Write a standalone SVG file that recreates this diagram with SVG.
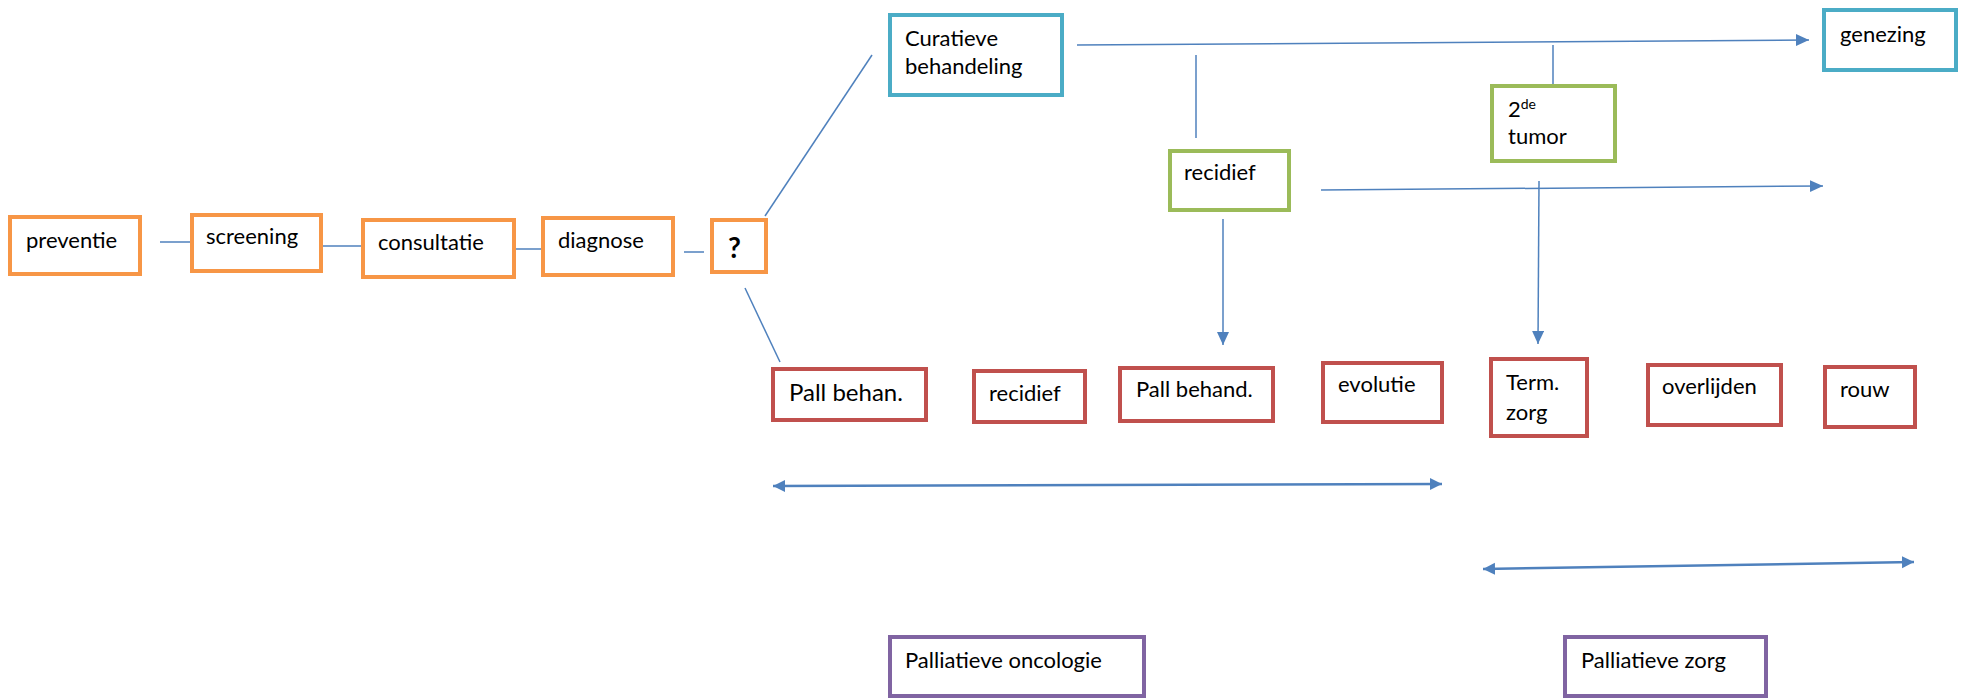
<svg xmlns="http://www.w3.org/2000/svg" width="1963" height="699" viewBox="0 0 1963 699">
<style>
  .box { fill: #ffffff; stroke-width: 4; }
  .o { stroke: #F79646; }
  .c { stroke: #4BACC6; }
  .g { stroke: #9BBB59; }
  .r { stroke: #C0504D; }
  .p { stroke: #8064A2; }
  text { font-family: Lato, "Open Sans", "Liberation Sans", sans-serif; font-size: 22px; fill: #000000; }
  .ln { stroke: #4F81BD; stroke-width: 1.5; fill: none; }
  .dbl { stroke: #4F81BD; stroke-width: 2.5; fill: none; }
</style>
<defs>
  <marker id="arr" markerUnits="userSpaceOnUse" markerWidth="14" markerHeight="14" refX="13" refY="6" orient="auto">
    <path d="M0,0 L13,6 L0,12 Z" fill="#4F81BD"/>
  </marker>
  <marker id="arr2" markerUnits="userSpaceOnUse" markerWidth="14" markerHeight="14" refX="12" refY="6" orient="auto-start-reverse">
    <path d="M0,0 L12,6 L0,12 Z" fill="#4F81BD"/>
  </marker>
</defs>

<g id="connectors">
  <line class="ln" x1="160" y1="242" x2="193" y2="242"/>
  <line class="ln" x1="321" y1="246" x2="362" y2="246"/>
  <line class="ln" x1="514" y1="249" x2="543" y2="249"/>
  <line class="ln" x1="684" y1="252" x2="704" y2="252"/>
  <line class="ln" x1="765" y1="216" x2="872" y2="55"/>
  <line class="ln" x1="745" y1="288" x2="780" y2="362"/>
  <line class="ln" x1="1077" y1="45" x2="1809" y2="40" marker-end="url(#arr)"/>
  <line class="ln" x1="1196" y1="55" x2="1196" y2="138"/>
  <line class="ln" x1="1553" y1="45" x2="1553" y2="85"/>
  <line class="ln" x1="1321" y1="190" x2="1823" y2="186" marker-end="url(#arr)"/>
  <line class="ln" x1="1223" y1="219" x2="1223" y2="345" marker-end="url(#arr)"/>
  <line class="ln" x1="1539" y1="181" x2="1538" y2="344" marker-end="url(#arr)"/>
  <line class="dbl" x1="773" y1="486" x2="1442" y2="484" marker-start="url(#arr2)" marker-end="url(#arr2)"/>
  <line class="dbl" x1="1483" y1="569" x2="1914" y2="562" marker-start="url(#arr2)" marker-end="url(#arr2)"/>
</g>

<g id="preventie"><rect class="box o" x="10" y="217" width="130" height="57"/><text x="26" y="248">preventie</text></g>
<g id="screening"><rect class="box o" x="192" y="215" width="129" height="56"/><text x="206" y="244">screening</text></g>
<g id="consultatie"><rect class="box o" x="363" y="220" width="151" height="57"/><text x="378" y="250">consultatie</text></g>
<g id="diagnose"><rect class="box o" x="543" y="218" width="130" height="57"/><text x="558" y="248">diagnose</text></g>
<g id="vraag"><rect class="box o" x="712" y="220" width="54" height="52"/><text x="728" y="258" style="font-weight:bold;font-size:28px">?</text></g>

<g id="curatieve"><rect class="box c" x="890" y="15" width="172" height="80"/><text x="905" y="46">Curatieve</text><text x="905" y="74">behandeling</text></g>
<g id="genezing"><rect class="box c" x="1824" y="10" width="132" height="60"/><text x="1840" y="42">genezing</text></g>

<g id="recidief-groen"><rect class="box g" x="1170" y="151" width="119" height="59"/><text x="1184" y="180">recidief</text></g>
<g id="tweede-tumor"><rect class="box g" x="1492" y="86" width="123" height="75"/><text x="1508" y="117">2<tspan style="font-size:14px" dy="-8">de</tspan></text><text x="1508" y="144">tumor</text></g>

<g id="pall-behan"><rect class="box r" x="773" y="369" width="153" height="51"/><text x="789" y="401" style="font-size:24px">Pall behan.</text></g>
<g id="recidief-rood"><rect class="box r" x="974" y="371" width="111" height="51"/><text x="989" y="401">recidief</text></g>
<g id="pall-behand"><rect class="box r" x="1120" y="368" width="153" height="53"/><text x="1136" y="397">Pall behand.</text></g>
<g id="evolutie"><rect class="box r" x="1323" y="363" width="119" height="59"/><text x="1338" y="392">evolutie</text></g>
<g id="term-zorg"><rect class="box r" x="1491" y="359" width="96" height="77"/><text x="1506" y="390">Term.</text><text x="1506" y="420">zorg</text></g>
<g id="overlijden"><rect class="box r" x="1648" y="365" width="133" height="60"/><text x="1662" y="394">overlijden</text></g>
<g id="rouw"><rect class="box r" x="1825" y="367" width="90" height="60"/><text x="1840" y="397">rouw</text></g>

<g id="palliatieve-oncologie"><rect class="box p" x="890" y="637" width="254" height="59"/><text x="905" y="668">Palliatieve oncologie</text></g>
<g id="palliatieve-zorg"><rect class="box p" x="1565" y="637" width="201" height="59"/><text x="1581" y="668">Palliatieve zorg</text></g>
</svg>
